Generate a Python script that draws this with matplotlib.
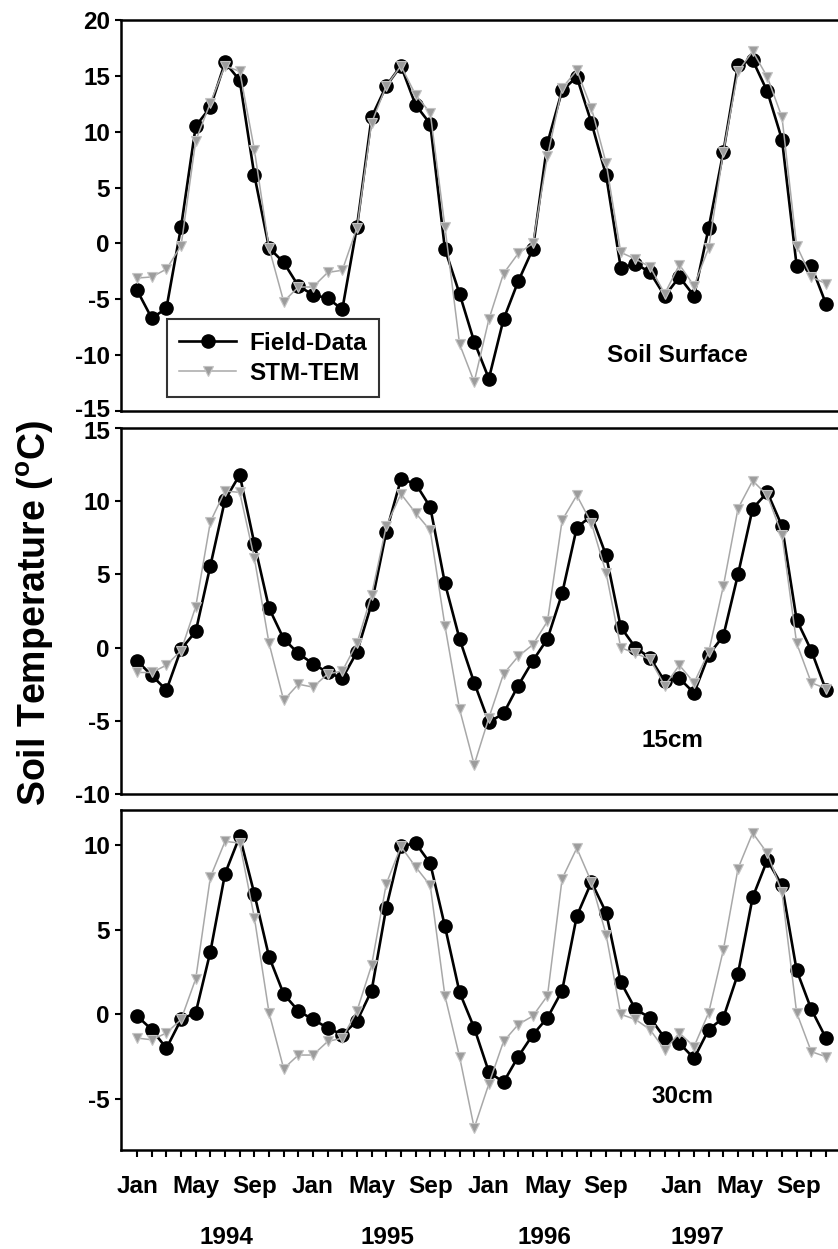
import matplotlib
matplotlib.use('Agg')
import matplotlib.pyplot as plt
import numpy as np
from matplotlib.transforms import ScaledTranslation, blended_transform_factory

plt.rcParams['font.family'] = ['Liberation Sans', 'DejaVu Sans']
plt.rcParams['font.weight'] = 'bold'
plt.rcParams['mathtext.fontset'] = 'custom'
plt.rcParams['mathtext.rm'] = 'Liberation Sans:bold'
plt.rcParams['mathtext.bf'] = 'Liberation Sans:bold'
plt.rcParams['mathtext.it'] = 'Liberation Sans:bold'

# ---------------- data (monthly, Jan 1994 - Dec 1997) ----------------
month_names = ['Jan', 'Feb', 'Mar', 'Apr', 'May', 'Jun',
               'Jul', 'Aug', 'Sep', 'Oct', 'Nov', 'Dec']
years = ['1994', '1995', '1996', '1997']

surf_field = [-4.2, -6.7, -5.8, 1.5, 10.5, 12.2, 16.2, 14.6, 6.1, -0.4, -1.7, -3.8,
              -4.6, -4.9, -5.9, 1.5, 11.3, 14.1, 15.9, 12.4, 10.7, -0.5, -4.5, -8.8,
              -12.1, -6.8, -3.4, -0.5, 9.0, 13.7, 14.9, 10.8, 6.1, -2.2, -1.8, -2.6,
              -4.7, -3.0, -4.7, 1.4, 8.2, 16.0, 16.4, 13.6, 9.3, -2.0, -2.0, -5.4]
surf_stm = [-3.1, -3.0, -2.3, -0.2, 9.2, 12.6, 15.9, 15.4, 8.4, -0.4, -5.2, -3.9,
            -3.9, -2.6, -2.4, 1.4, 10.8, 14.1, 15.9, 13.3, 11.7, 1.5, -9.0, -12.4,
            -6.8, -2.7, -0.9, 0.0, 7.8, 13.9, 15.5, 12.1, 7.2, -0.8, -1.4, -2.1,
            -4.5, -1.9, -3.8, -0.4, 8.2, 15.4, 17.2, 14.9, 11.3, -0.2, -3.0, -3.6]

mid_field = [-0.9, -1.9, -2.9, -0.1, 1.1, 5.6, 10.1, 11.8, 7.1, 2.7, 0.6, -0.4,
             -1.1, -1.7, -2.1, -0.3, 3.0, 7.9, 11.5, 11.2, 9.6, 4.4, 0.6, -2.4,
             -5.1, -4.5, -2.6, -0.9, 0.6, 3.7, 8.2, 9.0, 6.3, 1.4, 0.0, -0.7,
             -2.3, -2.1, -3.1, -0.5, 0.8, 5.0, 9.5, 10.6, 8.3, 1.9, -0.2, -2.9]
mid_stm = [-1.7, -1.7, -1.2, -0.2, 2.8, 8.6, 10.7, 10.6, 6.1, 0.3, -3.6, -2.5,
           -2.7, -1.8, -1.6, 0.3, 3.6, 8.3, 10.5, 9.2, 8.0, 1.5, -4.2, -8.0,
           -4.8, -1.8, -0.6, 0.2, 1.8, 8.7, 10.4, 8.5, 5.1, 0.0, -0.4, -0.8,
           -2.6, -1.2, -2.4, -0.3, 4.2, 9.5, 11.4, 10.4, 7.7, 0.3, -2.4, -2.8]

bot_field = [-0.1, -0.9, -2.0, -0.3, 0.1, 3.7, 8.3, 10.5, 7.1, 3.4, 1.2, 0.2,
             -0.3, -0.8, -1.2, -0.4, 1.4, 6.3, 9.9, 10.1, 8.9, 5.2, 1.3, -0.8,
             -3.4, -4.0, -2.5, -1.2, -0.2, 1.4, 5.8, 7.8, 6.0, 1.9, 0.3, -0.2,
             -1.4, -1.7, -2.6, -0.9, -0.2, 2.4, 6.9, 9.1, 7.6, 2.6, 0.3, -1.4]
bot_stm = [-1.4, -1.5, -1.1, -0.3, 2.1, 8.1, 10.2, 10.1, 5.7, 0.1, -3.2, -2.4,
           -2.4, -1.6, -1.4, 0.2, 2.9, 7.7, 9.9, 8.7, 7.6, 1.1, -2.5, -6.7,
           -4.1, -1.6, -0.6, -0.1, 1.1, 8.0, 9.8, 7.8, 4.7, 0.0, -0.3, -0.9,
           -2.1, -1.1, -1.9, 0.1, 3.8, 8.6, 10.7, 9.5, 7.2, 0.1, -2.2, -2.5]

panel_titles = ['Soil Surface', '15cm', '30cm']
y_limits = [(-15, 20), (-10, 15), (-8, 12.05)]
y_ticks = [[-15, -10, -5, 0, 5, 10, 15, 20],
           [-10, -5, 0, 5, 10, 15],
           [-5, 0, 5, 10]]
series_field = [surf_field, mid_field, bot_field]
series_stm = [surf_stm, mid_stm, bot_stm]

# ---------------- layout ----------------
W, H = 838, 1249
fig = plt.figure(figsize=(W / 100, H / 100), dpi=100)


def rect(l, t, r, b):
    return [l / W, 1 - b / H, (r - l) / W, (b - t) / H]


rects = [rect(121, 20, 845, 411), rect(121, 428, 845, 794), rect(121, 810, 845, 1150)]
title_pos = [(0.769, 0.143), (0.761, 0.1475), (0.775, 0.156)]

x = np.arange(len(surf_field))
FS = 17.5
grey = '#9c9c9c'
axes = []
for i in range(3):
    ax = fig.add_axes(rects[i])
    axes.append(ax)
    ax.plot(x, series_field[i], color='black', lw=1.9, marker='o', ms=9.5,
            zorder=3, label='Field-Data')
    ax.plot(x, series_stm[i], color='#a8a8a8', lw=1.1, marker='v', ms=7.5,
            mfc=grey, mec='#c4c4c4', mew=0.8, zorder=4, label='STM-TEM')
    ax.set_xlim(-1.1, 48.3)
    ax.set_ylim(*y_limits[i])
    ax.set_yticks(y_ticks[i])
    ax.set_yticklabels([str(v) for v in y_ticks[i]], fontsize=FS, fontweight='bold')
    ax.tick_params(axis='y', direction='out', length=4, width=1.5, pad=4, right=False)
    for s in ax.spines.values():
        s.set_linewidth(1.8)
    ax.text(title_pos[i][0], title_pos[i][1], panel_titles[i], transform=ax.transAxes,
            ha='center', va='center', fontsize=FS, fontweight='bold')
    if i < 2:
        ax.tick_params(axis='x', bottom=False, labelbottom=False)

# keep the adjoining "-15" / "15" labels of the top and middle panels apart
up = ScaledTranslation(0, 3 / 100, fig.dpi_scale_trans)
down = ScaledTranslation(0, -2 / 100, fig.dpi_scale_trans)
lbl_top = axes[0].get_yticklabels()[0]
lbl_top.set_transform(lbl_top.get_transform() + up)
lbl_mid = axes[1].get_yticklabels()[-1]
lbl_mid.set_transform(lbl_mid.get_transform() + down)

# x axis of the bottom panel
ax3 = axes[2]
ax3.set_xticks(x)
ax3.set_xticklabels([month_names[m % 12] if m % 4 == 0 else '' for m in x],
                    fontsize=FS, fontweight='bold')
ax3.tick_params(axis='x', direction='out', length=5, width=1.5, pad=13)
shift = ScaledTranslation(17 / 100, 0, fig.dpi_scale_trans)
for m, lbl in zip(x, ax3.get_xticklabels()):
    if m >= 36:
        lbl.set_transform(lbl.get_transform() + shift)

year_x = [6.1, 17.1, 27.8, 38.2]
tr = blended_transform_factory(ax3.transData, fig.transFigure)
for yx, yr in zip(year_x, years):
    ax3.text(yx, 1 - 1237 / H, yr, transform=tr, ha='center', va='center',
             fontsize=FS, fontweight='bold', clip_on=False)

# legend in top panel
leg = axes[0].legend(loc='lower left', bbox_to_anchor=(0.0635, 0.0358), borderaxespad=0,
                     frameon=True, fancybox=False, edgecolor='black',
                     handlelength=2.35, handletextpad=0.55, labelspacing=0.3,
                     borderpad=0.5, prop={'weight': 'bold', 'size': FS})
leg.get_frame().set_linewidth(1.5)

fig.text(35 / W, 1 - 613 / H, r'Soil Temperature ($^{o}$C)', rotation=90,
         ha='center', va='center', fontsize=27, fontweight='bold')

fig.savefig('out.png', dpi=100)
